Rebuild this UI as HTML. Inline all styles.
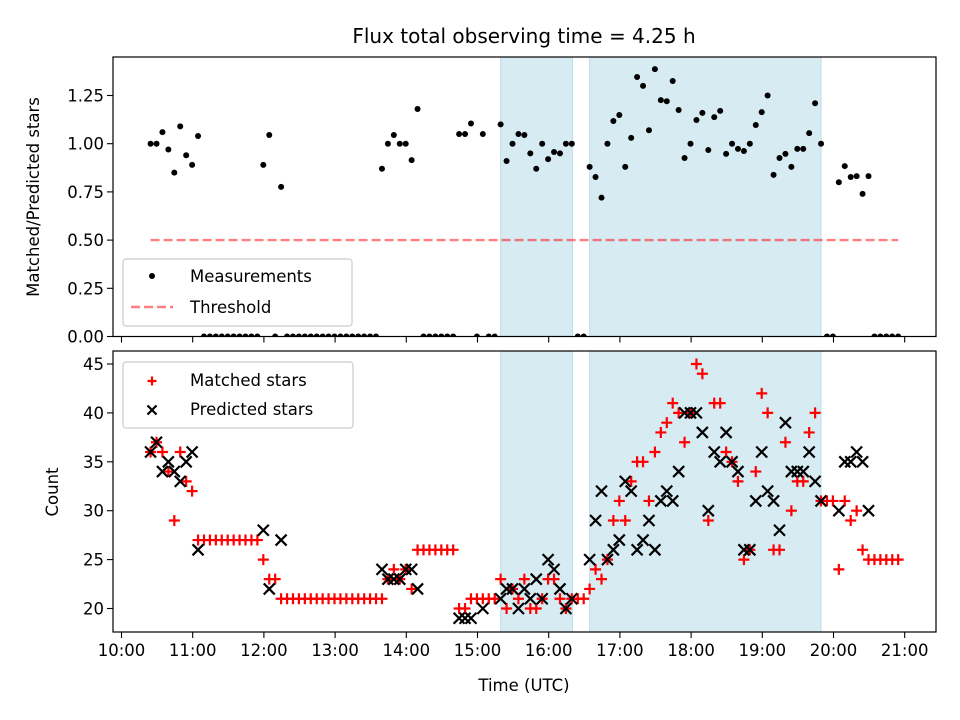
<!DOCTYPE html>
<html><head><meta charset="utf-8"><style>
html,body{margin:0;padding:0;background:#fff;}
svg{display:block;font-family:"DejaVu Sans","Liberation Sans",sans-serif;}
</style></head><body>
<svg id="fig" width="960" height="720" viewBox="0 0 960 720" xmlns="http://www.w3.org/2000/svg">
<defs>
<clipPath id="clipTop"><rect x="113" y="57" width="823" height="279.5"/></clipPath>
<clipPath id="clipBot"><rect x="113" y="351" width="823" height="281"/></clipPath>
</defs>
<rect x="0" y="0" width="960" height="720" fill="#fff"/>
<text x="524" y="43" font-size="20" text-anchor="middle" fill="#000">Flux total observing time = 4.25 h</text>
<g id="panelTop"></g>
<g id="panelBot"></g>
<text transform="translate(39,197) rotate(-90)" font-size="16.5" text-anchor="middle">Matched/Predicted stars</text>
<text transform="translate(58,492) rotate(-90)" font-size="16.5" text-anchor="middle">Count</text>
<text x="524" y="691" font-size="16.5" text-anchor="middle">Time (UTC)</text>
</svg>
<script>
// ---- data ----
const startMinutes = 24.5;   // first sample: minutes after 10:00
const stepMinutes = 5;       // cadence
const ratio = [1.0,1.0,1.06,0.97,0.85,1.09,0.94,0.89,1.04,
0,0,0,0,0,0,0,0,0,0,
0.89,1.045,0,0.776,
0,0,0,0,0,0,0,0,0,0,0,0,0,0,0,0,
0.87,1.0,1.045,1.0,1.0,0.915,1.18,
0,0,0,0,0,0,
1.05,1.05,1.105,0,1.05,0,0,1.10,
0.91,1.0,1.05,1.045,0.95,0.87,1.0,0.92,0.957,0.95,1.0,1.0,0,0,
0.88,0.827,0.72,1.0,1.118,1.149,0.88,1.03,1.346,1.3,1.07,1.387,1.226,1.22,1.325,1.175,0.926,1.0,1.123,1.16,0.967,1.138,1.17,0.947,1.0,0.973,0.962,1.0,1.097,1.164,1.25,0.838,0.926,0.947,0.88,0.973,0.973,1.055,1.21,1.0,0,0,
0.8,0.884,0.827,0.832,0.74,0.832,
0,0,0,0,0];
const matched = [36,37,36,34,29,36,33,32,27,
27,27,27,27,27,27,27,27,27,27,
25,23,23,21,
21,21,21,21,21,21,21,21,21,21,21,21,21,21,21,21,
21,23,24,23,24,22,26,
26,26,26,26,26,26,
20,20,21,21,21,21,21,23,
20,22,21,23,20,20,21,23,23,21,20,21,21,21,
22,24,23,25,29,31,29,33,35,35,31,36,38,39,41,40,37,40,45,44,29,41,41,36,35,33,25,26,34,42,40,26,26,37,30,33,33,38,40,31,31,31,
24,31,29,30,26,25,
25,25,25,25,25];
const predicted = [36,37,34,35,34,33,35,36,26,
null,null,null,null,null,null,null,null,null,null,
28,22,null,27,
null,null,null,null,null,null,null,null,null,null,null,null,null,null,null,null,
24,23,23,23,24,24,22,
null,null,null,null,null,null,
19,19,19,null,20,null,null,21,
22,22,20,22,21,23,21,25,24,22,20,21,null,null,
25,29,32,25,26,27,33,32,26,27,29,26,31,32,31,34,40,40,40,38,30,36,35,38,35,34,26,26,31,36,32,31,28,39,34,34,34,36,33,31,null,null,
30,35,35,36,35,30,
null,null,null,null,null];
const threshold = 0.5;
const thresholdStartMin = 24.5, thresholdEndMin = 654.5;
const spans = [[319.5, 380], [394.5, 589.5]]; // observing windows, minutes after 10:00
const hourTicks = ["10:00","11:00","12:00","13:00","14:00","15:00","16:00","17:00","18:00","19:00","20:00","21:00"];
const ratioTicks = [0,0.25,0.5,0.75,1.0,1.25];
const countTicks = [20,25,30,35,40,45];

// ---- scales ----
const NS="http://www.w3.org/2000/svg";
const L=113,R=936,T1=57,B1=336.5,T2=351,B2=632;
function xs(m){return 121.5 + m/60*71.2;}
function y1(v){return 336.5 - v*192.8;}
function y2(v){return 608.5 - (v-20)*9.78;}
function mk(tag,attrs,parent){const e=document.createElementNS(NS,tag);for(const k in attrs)e.setAttribute(k,attrs[k]);parent.appendChild(e);return e;}
const gTop=document.getElementById('panelTop'), gBot=document.getElementById('panelBot');
function tMin(i){return startMinutes + stepMinutes*i;}

// spans
[[gTop,T1,B1],[gBot,T2,B2]].forEach(([g,t,b])=>{
  spans.forEach((s)=>{
    const r=mk('rect',{x:xs(s[0]),y:t,width:xs(s[1])-xs(s[0]),height:b-t,fill:'rgb(214,235,242)',stroke:'rgb(190,222,232)','stroke-width':1},g);
    
    
  });
});

// threshold
const th=mk('line',{x1:xs(thresholdStartMin),x2:xs(thresholdEndMin),y1:y1(threshold),y2:y1(threshold),stroke:'rgba(255,0,0,0.5)','stroke-width':2.4,'stroke-dasharray':'9 4'},gTop);



// measurements
const gm=mk('g',{'clip-path':'url(#clipTop)'},gTop);
ratio.forEach((v,i)=>{
  const c=mk('circle',{cx:xs(tMin(i)),cy:y1(v),r:3,fill:'#000'},gm);
  
  
});

// counts
const gc=mk('g',{'clip-path':'url(#clipBot)'},gBot);
function plus(x,y,s,g){return mk('path',{d:`M${x-s} ${y}H${x+s}M${x} ${y-s}V${y+s}`,stroke:'#f00','stroke-width':2.2,fill:'none'},g);}
function cross(x,y,s,g){return mk('path',{d:`M${x-s} ${y-s}L${x+s} ${y+s}M${x-s} ${y+s}L${x+s} ${y-s}`,stroke:'#000','stroke-width':2.2,fill:'none'},g);}
matched.forEach((v,i)=>{
  const p=plus(xs(tMin(i)),y2(v),5.5,gc);
  
  
});
predicted.forEach((v,i)=>{
  if(v===null)return;
  const p=cross(xs(tMin(i)),y2(v),5.5,gc);
  
  
});

// axes frames & ticks
[[gTop,T1,B1,false],[gBot,T2,B2,true]].forEach(([g,t,b,lab])=>{
  const f=mk('rect',{x:L,y:t,width:R-L,height:b-t,fill:'none',stroke:'#000','stroke-width':1.2},g);
  
  
  hourTicks.forEach((h,k)=>{
    const x=xs(k*60);
    mk('line',{x1:x,x2:x,y1:b,y2:b+6,stroke:'#000','stroke-width':1.1},g);
    if(lab){
      const tx=mk('text',{x:x,y:b+24,'font-size':16.5,'text-anchor':'middle'},g);
      tx.textContent=h;
      
      
    }
  });
});
ratioTicks.forEach(v=>{
  const y=y1(v);
  mk('line',{x1:L-6,x2:L,y1:y,y2:y,stroke:'#000','stroke-width':1.1},gTop);
  const tx=mk('text',{x:L-9,y:y+6,'font-size':16.5,'text-anchor':'end'},gTop);
  tx.textContent=v.toFixed(2);
  
  
});
countTicks.forEach(v=>{
  const y=y2(v);
  mk('line',{x1:L-6,x2:L,y1:y,y2:y,stroke:'#000','stroke-width':1.1},gBot);
  const tx=mk('text',{x:L-9,y:y+6,'font-size':16.5,'text-anchor':'end'},gBot);
  tx.textContent=String(v);
  
  
});

// legends
const lg1=mk('g',{},gTop);


mk('rect',{x:123,y:259,width:229,height:67,rx:3,fill:'rgba(255,255,255,0.8)',stroke:'#ccc','stroke-width':1.2},lg1);
mk('circle',{cx:152,cy:276,r:3,fill:'#000'},lg1);
let t=mk('text',{x:190,y:282,'font-size':16.5},lg1); t.textContent='Measurements';
mk('line',{x1:131,x2:173,y1:307,y2:307,stroke:'rgba(255,0,0,0.5)','stroke-width':2.4,'stroke-dasharray':'9 4'},lg1);
t=mk('text',{x:190,y:313,'font-size':16.5},lg1); t.textContent='Threshold';
const lg2=mk('g',{},gBot);


mk('rect',{x:123,y:362,width:230,height:66,rx:3,fill:'rgba(255,255,255,0.8)',stroke:'#ccc','stroke-width':1.2},lg2);
plus(152,381,4.5,lg2);
t=mk('text',{x:190,y:386,'font-size':16.5},lg2); t.textContent='Matched stars';
cross(152,410,4.5,lg2);
t=mk('text',{x:190,y:415,'font-size':16.5},lg2); t.textContent='Predicted stars';
</script>
</body></html>
